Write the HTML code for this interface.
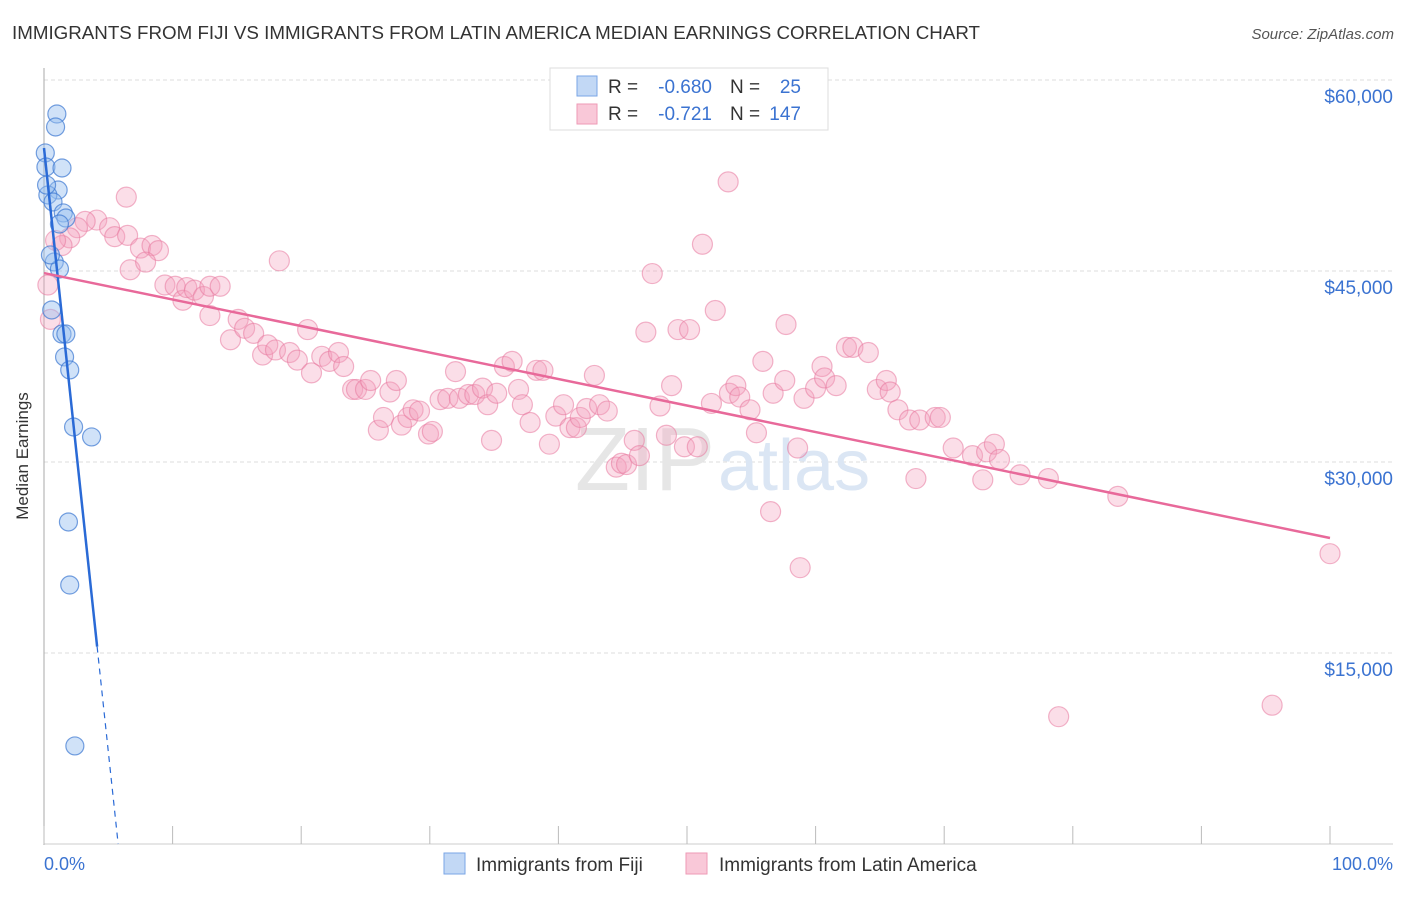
<!DOCTYPE html>
<html><head><meta charset="utf-8"><style>
body{margin:0;background:#fff;font-family:"Liberation Sans",sans-serif;}
svg text{font-family:"Liberation Sans",sans-serif;white-space:pre;}
</style></head><body>
<svg width="1406" height="892" viewBox="0 0 1406 892" xmlns="http://www.w3.org/2000/svg">
<text x="12" y="39" font-size="18" fill="#333" textLength="968" lengthAdjust="spacingAndGlyphs">IMMIGRANTS FROM FIJI VS IMMIGRANTS FROM LATIN AMERICA MEDIAN EARNINGS CORRELATION CHART</text>
<text x="1394" y="39" font-size="15" fill="#555" text-anchor="end" font-style="italic">Source: ZipAtlas.com</text>
<g id="grid"></g>
<text x="715" y="490" font-size="90" fill="#e6e6e6" text-anchor="end" font-family="Liberation Serif">ZIP</text>
<text x="718" y="490" font-size="72" fill="#dbe6f4">atlas</text>
<line x1="44" y1="68" x2="44" y2="845" stroke="#aaa"/>
<line x1="44" y1="844" x2="1393" y2="844" stroke="#ccc"/>
<g id="ticks"></g>
<g id="pink"></g>
<g id="blue"></g>
<g id="lines"></g>
<text x="28" y="456" font-size="17" fill="#333" text-anchor="middle" transform="rotate(-90 28 456)">Median Earnings</text>
<text x="44" y="870" font-size="18" fill="#3b73d1">0.0%</text>
<text x="1393" y="870" font-size="18" fill="#3b73d1" text-anchor="end">100.0%</text>
<g>
<rect x="550" y="68" width="278" height="62" fill="#fff" stroke="#ddd"/>
<rect x="577" y="76" width="20" height="20" fill="#c2d8f5" stroke="#7aa6e6"/>
<rect x="577" y="104" width="20" height="20" fill="#f9c8d8" stroke="#ee9ab6"/>
<text x="608" y="93" font-size="19" fill="#333">R =</text>
<text x="712" y="93" font-size="19" fill="#3b73d1" text-anchor="end">-0.680</text>
<text x="730" y="93" font-size="19" fill="#333">N =</text>
<text x="801" y="93" font-size="19" fill="#3b73d1" text-anchor="end">25</text>
<text x="608" y="120" font-size="19" fill="#333">R =</text>
<text x="712" y="120" font-size="19" fill="#3b73d1" text-anchor="end">-0.721</text>
<text x="730" y="120" font-size="19" fill="#333">N =</text>
<text x="801" y="120" font-size="19" fill="#3b73d1" text-anchor="end">147</text>
</g>
<g>
<rect x="444" y="853" width="21" height="21" fill="#c2d8f5" stroke="#7aa6e6"/>
<text x="476" y="871" font-size="19" fill="#333">Immigrants from Fiji</text>
<rect x="686" y="853" width="21" height="21" fill="#f9c8d8" stroke="#ee9ab6"/>
<text x="719" y="871" font-size="19" fill="#333">Immigrants from Latin America</text>
</g>
</svg>
<script>
const yTicks=[60000,45000,30000,15000];
const yTickLabels=["$60,000","$45,000","$30,000","$15,000"];
const xTicks=[0,10,20,30,40,50,60,70,80,90,100];
const fijiX=[1.0,0.9,0.1,0.15,1.4,1.1,0.3,0.7,1.5,1.7,1.2,0.8,1.2,0.6,1.4,1.7,1.6,2.0,2.3,3.7,1.9,2.0,2.4,0.2,0.5];
const fijiY=[57330,56310,54270,53170,53090,51360,50970,50420,49560,49160,48690,45710,45160,41940,40050,40050,38250,37230,32750,31970,25290,20340,7700,51750,46260];
const latX=[6.4,4.1,5.1,3.2,2.6,2.0,1.4,0.9,0.3,0.5,5.5,6.5,6.7,7.5,8.4,8.9,7.9,9.4,10.2,10.8,11.1,11.7,12.4,12.9,13.7,18.3,12.9,14.5,15.1,15.6,16.3,17.0,17.4,18.0,19.1,19.7,20.5,20.8,21.6,22.2,22.9,23.3,24.0,24.3,25.0,25.4,26.0,26.4,26.9,27.4,27.8,28.3,28.7,29.2,29.9,30.2,30.8,31.4,32.0,32.3,33.0,33.5,34.1,34.5,34.8,35.2,35.8,36.4,36.9,37.2,37.8,38.3,38.8,39.3,39.8,40.4,40.9,41.4,41.7,42.2,42.8,43.2,43.8,44.5,44.9,45.3,45.9,46.3,46.8,47.3,47.9,48.4,48.8,49.3,49.8,50.2,50.8,51.2,51.9,52.2,53.2,53.3,53.8,54.1,54.9,55.4,55.9,56.5,56.7,57.6,57.7,58.6,58.8,59.1,60.0,60.5,60.7,61.6,62.4,62.9,64.1,64.8,65.5,65.8,66.4,67.3,68.1,69.3,69.7,70.7,67.8,72.2,73.0,73.3,73.9,74.3,75.9,78.1,78.9,83.5,95.5,100.0];
const latY=[50.8,49.0,48.4,48.9,48.4,47.6,47.0,47.4,43.9,41.2,47.7,47.8,45.1,46.8,47.0,46.6,45.7,43.9,43.8,42.7,43.7,43.5,43.0,43.8,43.8,45.8,41.5,39.6,41.2,40.5,40.1,38.4,39.2,38.8,38.6,38.0,40.4,37.0,38.3,37.9,38.6,37.5,35.7,35.7,35.7,36.4,32.5,33.5,35.5,36.4,32.9,33.5,34.1,34.0,32.2,32.4,34.9,35.0,37.1,35.0,35.3,35.3,35.8,34.5,31.7,35.4,37.5,37.9,35.7,34.5,33.1,37.2,37.2,31.4,33.6,34.5,32.7,32.7,33.5,34.2,36.8,34.5,34.0,29.6,29.9,29.8,31.7,30.5,40.2,44.8,34.4,32.1,36.0,40.4,31.2,40.4,31.2,47.1,34.6,41.9,52.0,35.4,36.0,35.1,34.1,32.3,37.9,26.1,35.4,36.4,40.8,31.1,21.7,35.0,35.8,37.5,36.6,36.0,39.0,39.0,38.6,35.7,36.4,35.5,34.1,33.3,33.3,33.5,33.5,31.1,28.7,30.5,28.6,30.8,31.4,30.2,29.0,28.7,10.0,27.3,10.9,22.8];
const fijiLine=[54660,-9480];
const latLine=[44840,24030];
const X=p=>44+p*12.86;
const Y=v=>80+(60000-v)*191/15000;
const NS="http://www.w3.org/2000/svg";
function mk(tag,attrs,parent){const e=document.createElementNS(NS,tag);for(const k in attrs)e.setAttribute(k,attrs[k]);document.getElementById(parent).appendChild(e);return e;}
yTicks.forEach((v,i)=>{
 const l=mk('line',{x1:44,x2:1393,y1:Y(v),y2:Y(v),stroke:'#dcdcdc','stroke-dasharray':'4 3'},'grid');
 
 
 const t=mk('text',{x:1393,y:Y(v)+23,'font-size':19,fill:'#3b73d1','text-anchor':'end'},'grid');
 t.textContent=yTickLabels[i];
 
 
});
xTicks.forEach(p=>{
 const l=mk('line',{x1:X(p),x2:X(p),y1:826,y2:844,stroke:'#bbb'},'ticks');
 
 
});
latX.forEach((p,i)=>{
 const c=mk('circle',{cx:X(p),cy:Y(latY[i]*1000),r:10,fill:'rgba(244,160,188,0.35)',stroke:'rgba(232,120,158,0.55)','stroke-width':1.2},'pink');
 
 
});
fijiX.forEach((p,i)=>{
 const c=mk('circle',{cx:X(p),cy:Y(fijiY[i]),r:9,fill:'rgba(150,190,240,0.45)',stroke:'rgba(60,120,210,0.7)','stroke-width':1.2},'blue');
 
 
});
const fx0=(15500-fijiLine[0])/fijiLine[1], fxEnd=-fijiLine[0]/fijiLine[1];
let l1=mk('line',{x1:X(0),y1:Y(fijiLine[0]),x2:X(fx0),y2:Y(15500),stroke:'#2a6ad6','stroke-width':2.5},'lines');


let l2=mk('line',{x1:X(fx0),y1:Y(15500),x2:X(fxEnd),y2:Y(0),stroke:'#2a6ad6','stroke-width':1.2,'stroke-dasharray':'6 5'},'lines');


let l3=mk('line',{x1:X(0),y1:Y(latLine[0]),x2:X(100),y2:Y(latLine[1]),stroke:'#e8699a','stroke-width':2.5},'lines');


</script>
</body></html>
